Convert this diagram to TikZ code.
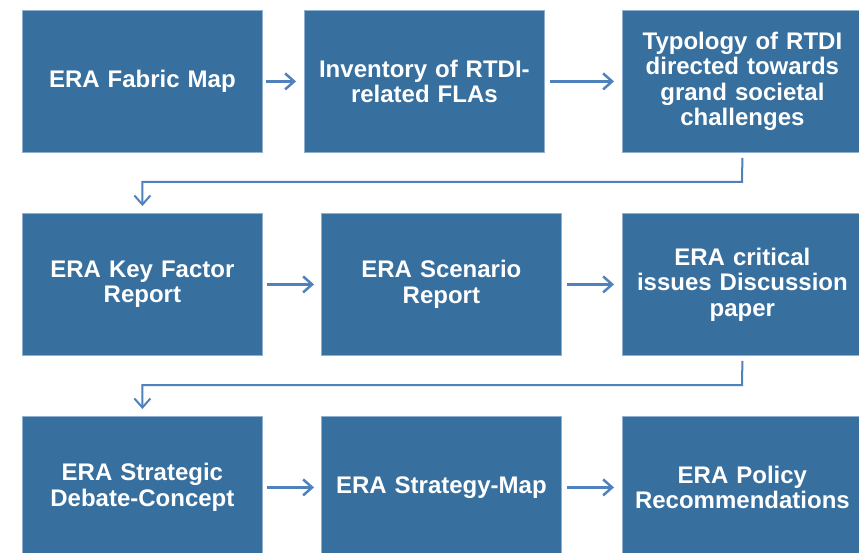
\documentclass[tikz,border=0pt]{standalone}
\usepackage{fontspec}
\setmainfont{Liberation Sans}
\usetikzlibrary{arrows.meta}
\definecolor{boxfill}{HTML}{376F9E}
\definecolor{boxline}{HTML}{8FB0CF}
\definecolor{arrowc}{HTML}{4F81BD}
\begin{document}
\begin{tikzpicture}[x=1bp,y=-1bp,
  box/.style={draw=boxline, line width=0.8bp, fill=boxfill, minimum width=240bp,
    minimum height=142bp, inner sep=0pt, text=white,
    font=\fontsize{24bp}{25.5bp}\selectfont\bfseries, align=center,
    anchor=north west, text width=236bp},
  flow/.style={draw=arrowc, line width=2.5bp, -{Straight Barb[length=9bp,width=16bp]}},
  conn/.style={draw=arrowc, line width=2bp, -{Straight Barb[length=9bp,width=16bp]}}]
\useasboundingbox (0,0) rectangle (859,553);
\clip (0,0) rectangle (859,553);
\fill[white] (0,0) rectangle (859,553);
% row 1
\node[box] (r1a) at (22,10) {ERA Fabric Map};
\node[box] (r1b) at (304,10) {Inventory of RTDI-\\related FLAs};
\node[box] (r1c) at (622,10) {Typology of RTDI\\directed towards\\grand societal\\challenges};
% row 2
\node[box] (r2a) at (22,213) {ERA Key Factor\\Report};
\node[box] (r2b) at (321,213) {ERA Scenario\\Report};
\node[box] (r2c) at (622,213) {ERA critical\\issues Discussion\\paper};
% row 3
\node[box] (r3a) at (22,416) {ERA Strategic\\Debate-Concept};
\node[box] (r3b) at (321,416) {ERA Strategy-Map};
\node[box] (r3c) at (622,416) {ERA Policy\\Recommendations};
% horizontal arrows
\draw[flow] ([xshift=3bp]r1a.east) -- ([xshift=-8bp]r1b.west);
\draw[flow] ([xshift=5bp]r1b.east) -- ([xshift=-8bp]r1c.west);
\draw[flow] ([xshift=4bp]r2a.east) -- ([xshift=-7bp]r2b.west);
\draw[flow] ([xshift=5bp]r2b.east) -- ([xshift=-8bp]r2c.west);
\draw[flow] ([xshift=4bp]r3a.east) -- ([xshift=-7bp]r3b.west);
\draw[flow] ([xshift=5bp]r3b.east) -- ([xshift=-8bp]r3c.west);
% row connectors
\coordinate (k1) at (742,182);
\coordinate (k2) at (742,385);
\draw[conn] ([yshift=-5bp]r1c.south) -- (k1) -| ([yshift=7bp]r2a.north);
\draw[conn] ([yshift=-5bp]r2c.south) -- (k2) -| ([yshift=7bp]r3a.north);
\end{tikzpicture}
\end{document}
